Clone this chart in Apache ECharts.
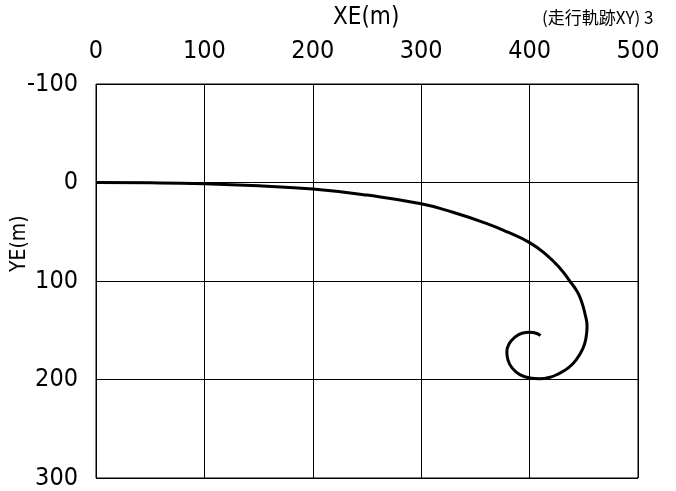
<!DOCTYPE html>
<html>
<head>
<meta charset="utf-8">
<script src="https://cdn.jsdelivr.net/npm/echarts@6/dist/echarts.min.js"></script>
<style>
html,body{margin:0;padding:0;background:#fff;}
#c{width:676px;height:491px;}
</style>
</head>
<body>
<div id="c"></div>
<script>
var xTicks = [0, 100, 200, 300, 400, 500];
var yTicks = [-100, 0, 100, 200, 300];
var xe = [0, 50, 100, 150, 200, 250, 300, 330, 360, 380, 400, 415, 428, 437, 444, 448, 451, 453, 452, 449, 443, 436, 427, 418, 409, 400, 391, 384, 380, 379, 381, 386, 393, 400, 406, 410];
var ye = [0, 0.3, 1.3, 3.4, 6.6, 12.8, 21.6, 30.5, 41.5, 50.5, 61, 73, 87, 100, 111, 121, 133, 146, 158, 169, 180, 188, 194, 198, 199.3, 198.5, 195, 188.5, 180, 172, 164, 157.5, 153, 152, 153, 155.5];
var xName = 'XE(m)';
var yName = 'YE(m)';
var note = '(走行軌跡XY) 3';

var pts = xe.map(function (x, i) { return [x, ye[i]]; });
var FONT = '"DejaVu Sans", "Noto Sans CJK JP", sans-serif';

var chart = echarts.init(document.getElementById('c'), null, {renderer: 'canvas'});
chart.setOption({
  animation: false,
  backgroundColor: '#fff',
  grid: {left: 96, right: 38, top: 84, bottom: 13, show: true, borderColor: '#000', borderWidth: 1},
  xAxis: {
    type: 'value', position: 'top', min: xTicks[0], max: xTicks[xTicks.length - 1], interval: 100,
    axisLine: {show: false}, axisTick: {show: false},
    axisLabel: {color: '#000', fontSize: 25, fontWeight: 'condensed', fontFamily: FONT, margin: 20},
    splitLine: {show: true, lineStyle: {color: '#000', width: 1}}
  },
  yAxis: {
    type: 'value', inverse: true, min: yTicks[0], max: yTicks[yTicks.length - 1], interval: 100,
    axisLine: {show: false}, axisTick: {show: false},
    axisLabel: {color: '#000', fontSize: 25, fontWeight: 'condensed', fontFamily: FONT, margin: 18},
    splitLine: {show: true, lineStyle: {color: '#000', width: 1}}
  },
  graphic: [
    {type: 'text', left: 333, top: 6, style: {text: xName, fill: '#000', font: 'condensed 24px ' + FONT}},
    {type: 'text', left: 542, top: 9, style: {text: note, fill: '#000', font: '17px "Noto Sans CJK JP", sans-serif'}},
    {type: 'text', x: 9, y: 272, rotation: Math.PI / 2, style: {text: yName, fill: '#000', font: 'condensed 21px ' + FONT, textVerticalAlign: 'top'}}
  ],
  series: [{
    type: 'line', data: pts, smooth: true, symbol: 'none',
    lineStyle: {color: '#000', width: 3}
  }]
});
</script>
</body>
</html>
